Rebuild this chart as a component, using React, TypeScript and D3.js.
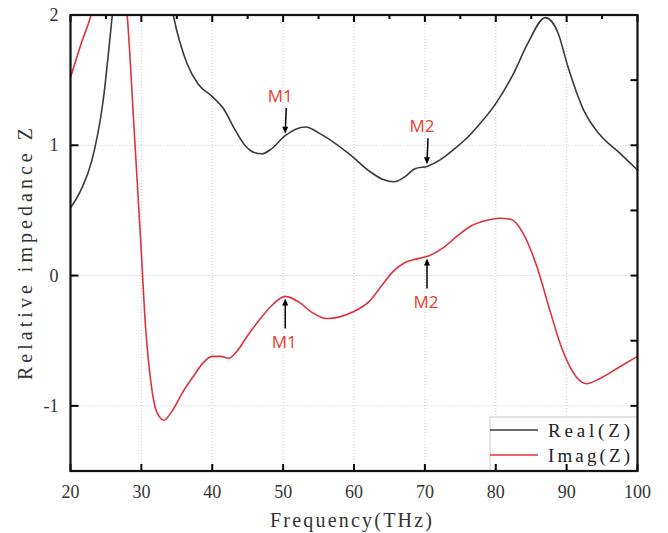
import React from 'react';
import * as d3 from 'd3';

const realFreq = [20, 21.5, 23.0, 24.6, 25.9, 27, 28.5, 30.5, 32.5, 34.5, 36.5, 38, 40.1, 41.6, 43.2, 44.6, 45.9, 47, 48.3, 50.2, 53.1, 55.5, 59.4, 62.2, 64, 65.7, 67.2, 68.6, 70.4, 72.2, 74.1, 76, 78, 80, 82.5, 84.5, 87, 88.8, 90.2, 92.4, 94.7, 97.5, 100];
const realZ = [0.52, 0.66, 0.88, 1.34, 2.0, 2.6, 3.1, 3.2, 2.7, 2.0, 1.62, 1.47, 1.37, 1.28, 1.12, 1.0, 0.945, 0.935, 0.97, 1.07, 1.14, 1.08, 0.93, 0.8, 0.74, 0.72, 0.76, 0.82, 0.84, 0.89, 0.97, 1.06, 1.18, 1.32, 1.55, 1.78, 1.98, 1.86, 1.6, 1.27, 1.08, 0.94, 0.81];

const imagFreq = [20, 21.5, 22.9, 24.5, 26, 27.2, 28, 29, 29.9, 30.6, 31.3, 32.2, 33.2, 34.2, 36, 37.5, 38.7, 40, 41.2, 42.3, 43.5, 45, 46.8, 48.4, 50.3, 52.4, 54, 56.2, 59.8, 62.3, 64, 65.5, 67.2, 69, 70.5, 72.5, 74.5, 76.5, 78.5, 80.5, 82.2, 83.8, 85.8, 87.6, 89.4, 91.4, 92.8, 94.7, 97.5, 100];
const imagZ = [1.52, 1.78, 2.0, 2.4, 2.6, 2.4, 2.0, 1.1, 0.27, -0.4, -0.8, -1.05, -1.11, -1.05, -0.88, -0.76, -0.67, -0.62, -0.62, -0.635, -0.58, -0.46, -0.33, -0.23, -0.16, -0.21, -0.28, -0.33, -0.28, -0.19, -0.07, 0.03, 0.1, 0.13, 0.15, 0.21, 0.3, 0.38, 0.42, 0.44, 0.43, 0.33, 0.07, -0.26, -0.57, -0.78, -0.83, -0.79, -0.7, -0.62];

const xTicks = [20, 30, 40, 50, 60, 70, 80, 90, 100];
const xMinor = [25, 35, 45, 55, 65, 75, 85, 95];
const yTicks = [-1, 0, 1, 2];
const yHalf = [-1.5, -0.5, 0.5, 1.5];
const seriesNames = ['Real(Z)', 'Imag(Z)'];
const seriesColors = ['#3a3a3a', '#e0323c'];

// markers: [frequency, which curve, label]
const markers: [number, number, string][] = [
  [50.3, 0, 'M1'],
  [70.3, 0, 'M2'],
  [50.3, 1, 'M1'],
  [70.3, 1, 'M2'],
];

const W = 668;
const H = 533;
const left = 70.5;
const right = 637.5;
const top = 15;
const bottom = 471;

const serif = '"Liberation Serif", "DejaVu Serif", serif';

export default function App() {
  const x = d3.scaleLinear().domain([20, 100]).range([left, right]);
  const y = d3.scaleLinear().domain([-1.5, 2]).range([bottom, top]);

  const line = d3
    .line<[number, number]>()
    .x((d) => x(d[0]))
    .y((d) => y(d[1]))
    .curve(d3.curveMonotoneX);

  const realPath = line(realFreq.map((f, i) => [f, realZ[i]]) as [number, number][]) || '';
  const imagPath = line(imagFreq.map((f, i) => [f, imagZ[i]]) as [number, number][]) || '';

  const valueAt = (freqs: number[], vals: number[], f: number) => {
    const i = d3.bisectLeft(freqs, f);
    if (i <= 0) return vals[0];
    const t = (f - freqs[i - 1]) / (freqs[i] - freqs[i - 1]);
    return vals[i - 1] + t * (vals[i] - vals[i - 1]);
  };

  return (
    <svg width={W} height={H} style={{ position: 'absolute', left: 0, top: 0, background: '#fff' }}>
      <defs>
        <clipPath id="plot">
          <rect x={left} y={top} width={right - left} height={bottom - top} />
        </clipPath>
      </defs>

      {/* grid */}
      {xTicks.slice(1, -1).map((t) => (
        <line key={'gx' + t} x1={x(t)} x2={x(t)} y1={top} y2={bottom} stroke="#c8c8c8" strokeWidth={1} strokeDasharray="1,2" />
      ))}
      {yTicks.slice(0, -1).map((t) => (
        <line key={'gy' + t} x1={left} x2={right} y1={y(t)} y2={y(t)} stroke="#c8c8c8" strokeWidth={1} strokeDasharray="1,2" />
      ))}

      {/* curves */}
      <g clipPath="url(#plot)">
        <path d={realPath} fill="none" stroke={seriesColors[0]} strokeWidth={1.6} />
        <path d={imagPath} fill="none" stroke={seriesColors[1]} strokeWidth={1.6} />
      </g>

      {/* markers */}
      {markers.map(([f, s, label], i) => {
        const v = s === 0 ? valueAt(realFreq, realZ, f) : valueAt(imagFreq, imagZ, f);
        const px = x(f);
        const py = y(v);
        if (s === 0) {
          return (
            <g key={'m' + i}>
              <line x1={px + 1} x2={px} y1={py - 28} y2={py - 4} stroke="#000" strokeWidth={1.5} />
              <path d={`M${px - 3},${py - 9} L${px},${py - 2} L${px + 3},${py - 9} Z`} fill="#000" />
              <text x={px - 5} y={py - 34} fill="#e8402a" fontFamily="'Open Sans', sans-serif" fontSize={17} textAnchor="middle">{label}</text>
            </g>
          );
        }
        return (
          <g key={'m' + i}>
            <line x1={px} x2={px} y1={py + 4} y2={py + 32} stroke="#000" strokeWidth={1.5} />
            <path d={`M${px - 3},${py + 9} L${px},${py + 2} L${px + 3},${py + 9} Z`} fill="#000" />
            <text x={px - 1} y={py + 52} fill="#e8402a" fontFamily="'Open Sans', sans-serif" fontSize={17} textAnchor="middle">{label}</text>
          </g>
        );
      })}

      {/* legend */}
      <rect x={490} y={417} width={right - 490} height={bottom - 417} fill="#fff" stroke="#c8c8c8" strokeWidth={1} />
      {seriesNames.map((n, i) => (
        <g key={n}>
          <line x1={490} x2={538} y1={430 + i * 25} y2={430 + i * 25} stroke={seriesColors[i]} strokeWidth={1.5} />
          <text x={548} y={437 + i * 25} fontFamily={serif} fontSize={19} fill="#222" textLength={82} lengthAdjust="spacing">{n}</text>
        </g>
      ))}

      {/* ticks */}
      {xTicks.map((t) => (
        <g key={'xt' + t}>
          <line x1={x(t)} x2={x(t)} y1={bottom} y2={bottom - 7} stroke="#000" strokeWidth={2} />
          <line x1={x(t)} x2={x(t)} y1={top} y2={top + 7} stroke="#000" strokeWidth={2} />
          <text x={x(t)} y={bottom + 27} textAnchor="middle" fontFamily={serif} fontSize={18} fill="#333">{t}</text>
        </g>
      ))}
      {xMinor.map((t) => (
        <line key={'xm' + t} x1={x(t)} x2={x(t)} y1={top} y2={top + 4} stroke="#000" strokeWidth={2} />
      ))}
      {yTicks.map((t) => (
        <g key={'yt' + t}>
          <line x1={left} x2={left + 8} y1={y(t)} y2={y(t)} stroke="#000" strokeWidth={2} />
          <line x1={right} x2={right - 7} y1={y(t)} y2={y(t)} stroke="#000" strokeWidth={2} />
          <text x={left - 12} y={y(t) + 6} textAnchor="end" fontFamily={serif} fontSize={18} fill="#333">{t < 0 ? '-' + Math.abs(t) : t}</text>
        </g>
      ))}
      {yHalf.map((t) => (
        <line key={'ym' + t} x1={right} x2={right - 7} y1={y(t)} y2={y(t)} stroke="#000" strokeWidth={2} />
      ))}

      {/* frame */}
      <rect x={left} y={top} width={right - left} height={bottom - top} fill="none" stroke="#111" strokeWidth={2.2} />

      {/* axis titles */}
      <text x={270} y={527} fontFamily={serif} fontSize={20} fill="#333" textLength={162} lengthAdjust="spacing">Frequency(THz)</text>
      <text transform="translate(32,380) rotate(-90)" fontFamily={serif} fontSize={20} fill="#333" textLength={252} lengthAdjust="spacing">Relative impedance Z</text>
    </svg>
  );
}
